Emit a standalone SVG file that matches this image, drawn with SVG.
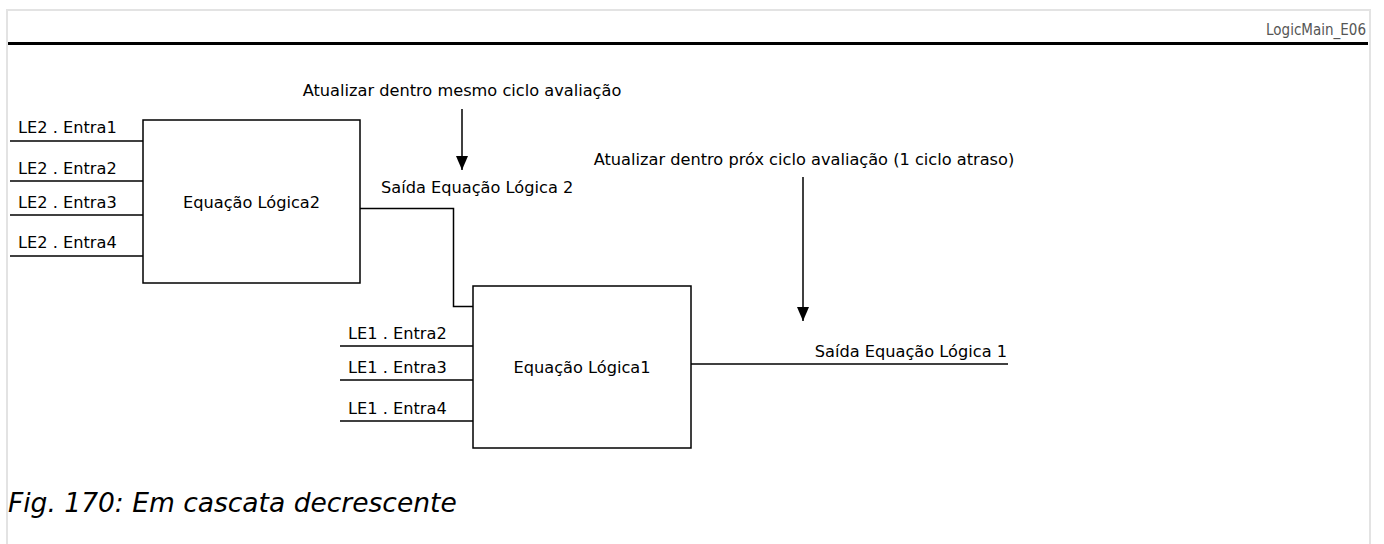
<svg xmlns="http://www.w3.org/2000/svg" width="1384" height="544" viewBox="0 0 1384 544">
  <defs>
    <marker id="arrow" markerUnits="userSpaceOnUse" viewBox="0 0 14 12" refX="14" refY="6" markerWidth="14" markerHeight="12" orient="auto">
      <path d="M0,0 L14,6 L0,12 z" fill="#000"/>
    </marker>
    <style>
      .frame { fill: none; stroke: #e3e3e3; stroke-width: 2; }
      .box { fill: #fff; stroke: #000; stroke-width: 1.5; }
      .wire { fill: none; stroke: #000; stroke-width: 1.5; }
      .arrow { fill: none; stroke: #000; stroke-width: 1.5; marker-end: url(#arrow); }
      .t { font-family: "DejaVu Sans", sans-serif; font-size: 16.2px; fill: #000; }
      .mid { text-anchor: middle; }
      .end { text-anchor: end; }
      .hdr { font-family: "DejaVu Sans Condensed", "DejaVu Sans", sans-serif; font-stretch: condensed; font-size: 15px; fill: #555; text-anchor: end; }
      .cap { font-family: "DejaVu Sans", sans-serif; font-style: oblique; font-size: 26.5px; fill: #000; }
    </style>
  </defs>

  <rect width="1384" height="544" fill="#fff"/>
  <path class="frame" d="M7,544 V10 H1370 V544"/>
  <line x1="8" y1="43.5" x2="1368" y2="43.5" stroke="#000" stroke-width="3"/>
  <text class="hdr" x="1366" y="35">LogicMain_E06</text>

  <g id="connectors">
    <line class="wire" x1="10" y1="141" x2="143" y2="141"/>
    <line class="wire" x1="10" y1="181" x2="143" y2="181"/>
    <line class="wire" x1="10" y1="215" x2="143" y2="215"/>
    <line class="wire" x1="10" y1="256" x2="143" y2="256"/>
    <polyline class="wire" points="360,208.5 453.5,208.5 453.5,306.5 473,306.5"/>
    <line class="wire" x1="340" y1="346" x2="473" y2="346"/>
    <line class="wire" x1="340" y1="380" x2="473" y2="380"/>
    <line class="wire" x1="340" y1="421" x2="473" y2="421"/>
    <line class="wire" x1="691" y1="364" x2="1008" y2="364"/>
    <line class="arrow" x1="462" y1="109" x2="462" y2="170"/>
    <line class="arrow" x1="803" y1="177" x2="803" y2="321"/>
  </g>

  <g id="labels">
    <text class="t" x="18" y="133">LE2 . Entra1</text>
    <text class="t" x="18" y="174">LE2 . Entra2</text>
    <text class="t" x="18" y="208">LE2 . Entra3</text>
    <text class="t" x="18" y="248">LE2 . Entra4</text>
    <text class="t" x="348" y="339">LE1 . Entra2</text>
    <text class="t" x="348" y="373">LE1 . Entra3</text>
    <text class="t" x="348" y="414">LE1 . Entra4</text>
    <text class="t" x="381" y="193">Saída Equação Lógica 2</text>
    <text class="t end" x="1007" y="357">Saída Equação Lógica 1</text>
    <text class="t mid" x="462" y="96">Atualizar dentro mesmo ciclo avaliação</text>
    <text class="t mid" x="804" y="165">Atualizar dentro próx ciclo avaliação (1 ciclo atraso)</text>
  </g>

  <g id="le2">
    <rect class="box" x="143" y="120" width="217" height="163"/>
    <text class="t mid" x="251.5" y="208">Equação Lógica2</text>
  </g>

  <g id="le1">
    <rect class="box" x="473" y="286" width="218" height="162"/>
    <text class="t mid" x="582" y="373">Equação Lógica1</text>
  </g>

  <text class="cap" x="8" y="512">Fig. 170: Em cascata decrescente</text>
</svg>
